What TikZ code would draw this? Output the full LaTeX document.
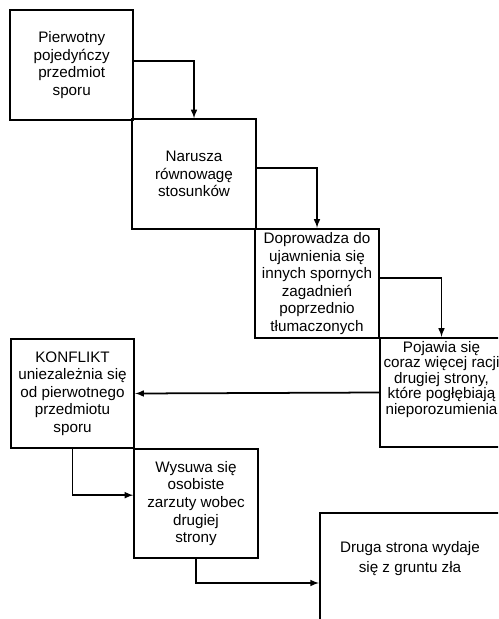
\documentclass[tikz,border=0pt]{standalone}
\usepackage{fontspec}
\setmainfont{Liberation Sans}
\usepackage{tikz}
\usetikzlibrary{arrows,shapes}
\usetikzlibrary{positioning}
\tikzset{
    stage/.style={draw=black, rectangle, line width=1.8pt, inner sep=0pt,
        minimum width=3.7cm, minimum height=3.28cm, align=center,
        font=\fontsize{13}{15}\selectfont},
    stagetext/.style={align=center, inner sep=0pt,
        font=\fontsize{13}{15}\selectfont},
    flow/.style={draw=black, line width=1.5pt, -latex},
}

\begin{document}
\begin{tikzpicture}[x=0.03cm, y=-0.03cm]
\useasboundingbox (0,0) rectangle (498,619);
\clip (0,0) rectangle (498,619);
	\node[stage] (origin) at (71.7,65) {Pierwotny\\pojedyńczy\\przedmiot\\sporu};
	\node[stage] (balance) at (194,174) {Narusza\\równowagę\\stosunków};
	\node[stage] (issues) at (317,283.5) {Doprowadza do\\ujawnienia się\\innych spornych\\zagadnień\\poprzednio\\tłumaczonych};
	\node[stage, label={[stagetext, yshift=0.4cm, font=\fontsize{13}{13.2}\selectfont]center:{Pojawia się\\coraz więcej racji\\drugiej strony,\\które pogłębiają\\nieporozumienia}}] (reasons) at (441.5,392.5) {};
	\node[stage] (conflict) at (72.5,393.5) {KONFLIKT\\uniezależnia się\\od pierwotnego\\przedmiotu\\sporu};
	\node[stage] (charges) at (196,503.5) {Wysuwa się\\osobiste\\zarzuty wobec\\drugiej\\strony};
	\node[stage, minimum width=5.4cm, minimum height=4.2cm, label={[stagetext, yshift=0.72cm, font=\fontsize{13}{17}\selectfont]center:{Druga strona wydaje\\się z gruntu zła}}] (evil) at (410,583) {};
	\draw[flow] ([yshift=0.12cm]origin.east) -| (balance.north);
	\draw[flow] ([yshift=0.18cm]balance.east) -| (issues.north);
	\draw[flow] ([yshift=0.16cm]issues.east) -| (reasons.north);
	\draw[flow] (reasons.west) -- (conflict.east);
	\draw[flow] (conflict.south) |- ([yshift=0.25cm]charges.west);
	\draw[flow] (charges.south) |- (evil.west);
\end{tikzpicture}
\end{document}
